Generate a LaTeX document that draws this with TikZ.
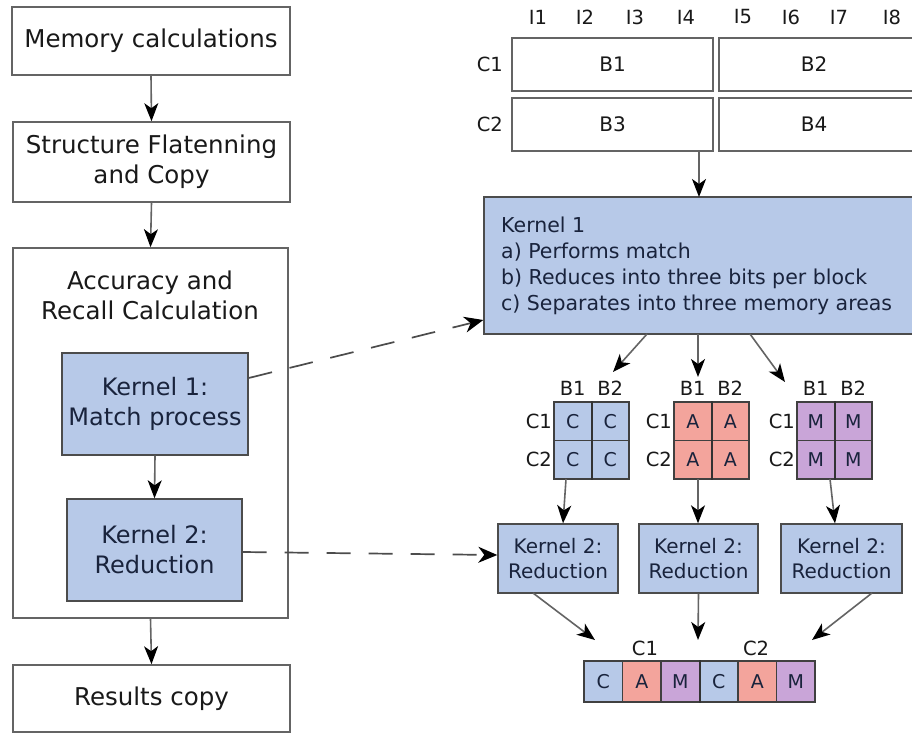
\documentclass[tikz,border=0pt]{standalone}
\usepackage{fontspec}
\setmainfont{DejaVu Sans}
\usetikzlibrary{arrows.meta}
\definecolor{kblue}{RGB}{183,201,232}
\definecolor{kred}{RGB}{243,164,156}
\definecolor{kpurple}{RGB}{201,165,216}
\definecolor{edgegray}{RGB}{100,100,100}
\definecolor{txt}{RGB}{25,25,25}
\definecolor{navy}{RGB}{25,35,60}
\tikzset{
  box/.style={draw=edgegray, line width=1.6pt, fill=white, inner sep=0pt, align=center, text=txt,
    font=\fontsize{24.5}{30}\selectfont},
  kbox/.style={draw=black!70, line width=1.4pt, fill=kblue, inner sep=0pt, align=center, text=navy,
    font=\fontsize{24}{30}\selectfont},
  skbox/.style={kbox, font=\fontsize{20}{25}\selectfont},
  wbox/.style={draw=edgegray, line width=1.6pt, fill=white, inner sep=0pt, text=txt,
    font=\fontsize{20}{24}\selectfont},
  lbl/.style={inner sep=0pt, text=txt, font=\fontsize{19.5}{22}\selectfont},
  cell/.style={draw=black!75, line width=1.2pt, inner sep=0pt, minimum width=37.5pt, minimum height=38.5pt,
    text=navy, font=\fontsize{19}{22}\selectfont},
  arr/.style={draw=edgegray, line width=1.6pt, -{Stealth[black,length=18pt,width=14pt,inset=5pt]}},
  dasharr/.style={draw=black!70, line width=1.7pt, dash pattern=on 24pt off 18pt,
    -{Stealth[black,length=19pt,width=16pt,inset=6pt]}},
}
\begin{document}
\begin{tikzpicture}[x=1pt,y=-1pt]
\useasboundingbox (0,0) rectangle (912,733);
\fill[white] (0,0) rectangle (912,733);
\clip (0,0) rectangle (912,733);

% ---------- left column ----------
\node[box, minimum width=278pt, minimum height=68pt] (mem) at (151,41) {Memory calculations};
\node[box, minimum width=277pt, minimum height=80pt] (flat) at (151.5,162) {Structure Flatenning\\and Copy};
\node[box, minimum width=275pt, minimum height=370pt] (acc) at (150.5,433) {};
\node[inner sep=0pt, align=center, text=txt, font=\fontsize{24.5}{30}\selectfont] (acct) at (150,295) {Accuracy and\\Recall Calculation};
\node[kbox, minimum width=186pt, minimum height=102pt] (k1) at (155,404) {Kernel 1:\\Match process};
\node[kbox, minimum width=175pt, minimum height=102pt] (k2) at (154.5,550) {Kernel 2:\\Reduction};
\node[box, minimum width=277pt, minimum height=67pt] (res) at (151.5,698.5) {Results copy};

\draw[arr] (mem.south) -- (flat.north);
\draw[arr] (flat.south) -- (acc.north);
\draw[arr] (k1.south) -- (k2.north);
\draw[arr] (acc.south) -- (res.north);

% ---------- top right blocks ----------
\foreach \n/\x in {1/538,2/585,3/635,4/686,5/743,6/791,7/839,8/892}{
  \node[lbl] (i\n) at (\x,17) {I\n};
}
\node[wbox, minimum width=201pt, minimum height=53pt] (b1) at (612.5,64.5) {B1};
\node[wbox, minimum width=201pt, minimum height=53pt] (b3) at (612.5,124.5) {B3};
\node[wbox, minimum width=200pt, minimum height=53pt] (b2) at (819,64.5) {};
\node[lbl, font=\fontsize{20}{24}\selectfont] (b2t) at (814,64.5) {B2};
\node[wbox, minimum width=200pt, minimum height=53pt] (b4) at (819,124.5) {};
\node[lbl, font=\fontsize{20}{24}\selectfont] (b4t) at (814,124.5) {B4};
\node[lbl, anchor=east] (c1) at (503,64.5) {C1};
\node[lbl, anchor=east] (c2) at (503,124.5) {C2};

% ---------- kernel 1 big ----------
\node[kbox, minimum width=440pt, minimum height=137pt] (kb1) at (704,265.5) {};
\node[inner sep=0pt, anchor=north west, align=left, text=navy, font=\fontsize{20.5}{26}\selectfont] (kb1t) at (501,217)
  {Kernel 1\\a) Performs match\\b) Reduces into three bits per block\\c) Separates into three memory areas};
\coordinate (b3s) at (699,151);
\draw[arr] (b3s) -- (699,197);

% ---------- grids ----------
\foreach \g/\gx/\col/\ch in {bg/554/kblue/C, rg/674/kred/A, pg/797/kpurple/M}{
  \node[cell, fill=\col] (\g11) at (\gx+18.75,421.25) {\ch};
  \node[cell, fill=\col] (\g12) at (\gx+56.25,421.25) {\ch};
  \node[cell, fill=\col] (\g21) at (\gx+18.75,459.75) {\ch};
  \node[cell, fill=\col] (\g22) at (\gx+56.25,459.75) {\ch};
  \draw[black!80, line width=2.2pt] (\g11.north east) -- (\g21.south east);
  \node[lbl] (\g b1) at (\gx+18.75,388) {B1};
  \node[lbl] (\g b2) at (\gx+56.25,388) {B2};
  \node[lbl, anchor=east] (\g c1) at (\gx-2,421.25) {C1};
  \node[lbl, anchor=east] (\g c2) at (\gx-2,459.75) {C2};
}

\coordinate (k1a) at (647,334);
\coordinate (k1b) at (698,334);
\coordinate (k1c) at (750,334);
\coordinate (ga) at (613,372);
\coordinate (gb) at (698,377);
\coordinate (gc) at (785,382);
\draw[arr] (k1a) -- (ga);
\draw[arr] (k1b) -- (gb);
\draw[arr] (k1c) -- (gc);

% ---------- kernel 2 boxes ----------
\node[skbox, minimum width=120pt, minimum height=69pt] (r1) at (558,558.5) {Kernel 2:\\Reduction};
\node[skbox, minimum width=119pt, minimum height=69pt] (r2) at (698.5,558.5) {Kernel 2:\\Reduction};
\node[skbox, minimum width=121pt, minimum height=69pt] (r3) at (841.5,558.5) {Kernel 2:\\Reduction};

\draw[arr] (566,479) -- (r1.north -| 563,0);
\draw[arr] (698,479) -- (r2.north -| 698,0);
\draw[arr] (830,479) -- (r3.north -| 835,0);

% ---------- result row ----------
\foreach \i/\col/\ch in {1/kblue/C,2/kred/A,3/kpurple/M,4/kblue/C,5/kred/A,6/kpurple/M}{
  \node[cell, fill=\col, minimum width=38.5pt, minimum height=41pt] (o\i) at ({584+38.5*(\i-0.5)},681.5) {\ch};
}
\draw[black!80, line width=2.2pt] (o3.north east) -- (o3.south east);
\node[lbl] (oc1) at (645,648) {C1};
\node[lbl] (oc2) at (756,648) {C2};

\coordinate (ra) at (595,640);
\coordinate (rb) at (698,640);
\coordinate (rc) at (812,640);
\draw[arr] (533,593) -- (ra);
\draw[arr] (r2.south) -- (rb);
\draw[arr] (872,593) -- (rc);

% ---------- dashed links ----------
\draw[dasharr] (k1.east |- 0,378) -- (kb1.west |- 0,320);
\draw[dasharr] (k2.east |- 0,552) -- (r1.west |- 0,555);
\end{tikzpicture}
\end{document}
